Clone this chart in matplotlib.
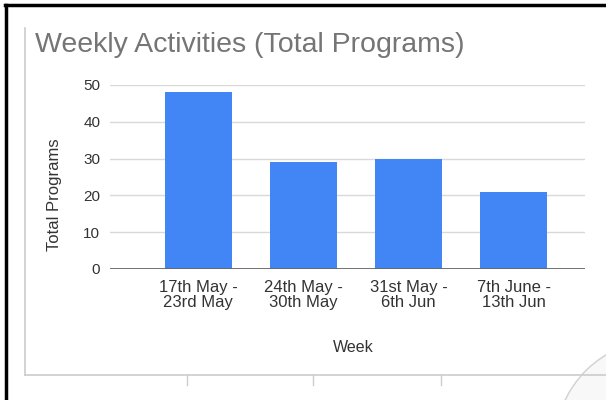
import matplotlib.pyplot as plt
from matplotlib.lines import Line2D
from matplotlib.patches import Ellipse

weeks = ['17th May -\n23rd May', '24th May -\n30th May', '31st May -\n6th Jun', '7th June -\n13th Jun']
programs = [48, 29, 30, 21]
y_ticks = [0, 10, 20, 30, 40, 50]

W, H = 606, 400
plt.rcParams['font.family'] = ['Liberation Sans', 'DejaVu Sans']

fig = plt.figure(figsize=(W / 100, H / 100), dpi=100)

def px(x, y):
    return x / W, 1 - y / H

# chart area
ax = fig.add_axes([110 / W, (H - 269) / H, 475 / W, 184 / H])
x = range(len(weeks))
ax.bar(x, programs, width=0.64, color='#4285F4', zorder=3)
ax.set_xlim(-0.84, 3.68)
ax.set_ylim(0, 50)
ax.set_yticks(y_ticks)
ax.set_xticks(list(x))
ax.set_xticklabels(weeks, linespacing=0.95)
ax.grid(axis='y', color='#d9d9d9', linewidth=1, zorder=0)
ax.axhline(0, color='#666666', linewidth=2, zorder=4)
for s in ax.spines.values():
    s.set_visible(False)
ax.tick_params(axis='y', length=0, pad=7, labelsize=11, labelcolor='#333333')
ax.tick_params(axis='x', length=0, pad=8, labelsize=12, labelcolor='#333333')

fig.text(*px(35, 45), 'Weekly Activities (Total Programs)', fontsize=20.5,
         color='#757575', va='center', ha='left')
fig.text(*px(353, 348), 'Week', fontsize=11.5, color='#333333', ha='center', va='center')
fig.text(*px(54, 195), 'Total Programs', fontsize=12, color='#333333',
         rotation=90, ha='center', va='center')

# screenshot frame and spreadsheet cell lines
fig.add_artist(Line2D([5 / W, 1], [1 - 5 / H] * 2, color='black', linewidth=2.5))
fig.add_artist(Line2D([6 / W] * 2, [0, 1 - 5 / H], color='black', linewidth=2.5))
fig.add_artist(Line2D([25 / W] * 2, [1 - 375 / H, 1 - 28 / H], color='#cccccc', linewidth=1.2))
fig.add_artist(Line2D([25 / W, 1], [1 - 375 / H] * 2, color='#cccccc', linewidth=1.2))
for cx in [187, 313, 441]:
    fig.add_artist(Line2D([cx / W] * 2, [1 - 375 / H, 1 - 385 / H], color='#cccccc', linewidth=1))
r = 105
fig.add_artist(Ellipse(px(660, 445), 2 * r / W, 2 * r / H, transform=fig.transFigure,
                       facecolor='#f8f8f8', edgecolor='#d0d0d0', linewidth=1))

fig.savefig('out.png', dpi=100)
